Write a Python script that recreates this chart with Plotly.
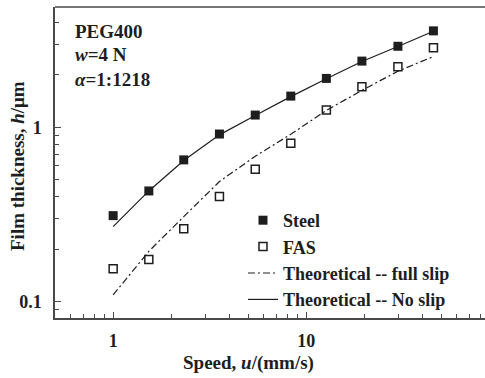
import numpy as np
import plotly.graph_objects as go

# Sliding speed u (mm/s)
speed = [1.0, 1.53, 2.32, 3.55, 5.44, 8.31, 12.7, 19.4, 29.8, 45.5]

# Measured film thickness h (um)
h_steel = [0.311, 0.431, 0.650, 0.915, 1.176, 1.511, 1.909, 2.40, 2.92, 3.58]
h_fas = [0.154, 0.174, 0.261, 0.400, 0.575, 0.810, 1.256, 1.709, 2.225, 2.86]

# Theoretical film thickness h (um)
h_full_slip = [0.109, 0.194, 0.307, 0.488, 0.682, 0.912, 1.25, 1.63, 2.10, 2.55]
h_no_slip = [0.269, 0.431, 0.645, 0.905, 1.17, 1.50, 1.90, 2.39, 2.91, 3.56]

x_major = [1, 10]
x_minor = [0.6, 0.7, 0.8, 0.9, 2, 3, 4, 5, 6, 7, 8, 9, 20, 30, 40, 50, 60, 70, 80]
y_major = [0.1, 1]
y_minor = [0.09, 0.2, 0.3, 0.4, 0.5, 0.6, 0.7, 0.8, 0.9, 2, 3, 4]

W, H = 485, 378
ML, MR, MT, MB = 55, 0, 7, 60
AXC = "#4a4a4a"
INK = "#1e1e1e"
FONT = "Liberation Serif"

fig = go.Figure()
fig.add_trace(go.Scatter(
    x=speed, y=h_steel, mode="markers", name="Steel",
    marker=dict(symbol="square", size=9, color=INK, line=dict(width=0)),
))
fig.add_trace(go.Scatter(
    x=speed, y=h_fas, mode="markers", name="FAS",
    marker=dict(symbol="square-open", size=8, color=INK, line=dict(width=1.5, color=INK)),
))
fig.add_trace(go.Scatter(
    x=speed, y=h_full_slip, mode="lines", name="Theoretical -- full slip",
    line=dict(color=INK, width=1.2, dash="7px,3px,2px,3px"),
))
fig.add_trace(go.Scatter(
    x=speed, y=h_no_slip, mode="lines", name="Theoretical -- No slip",
    line=dict(color=INK, width=1.2),
))

tickfont = dict(family=FONT, size=18, color=INK, weight="bold")

fig.update_xaxes(
    type="log", range=[np.log10(0.5), 1.925],
    showline=True, linecolor=AXC, linewidth=1.5, mirror=False,
    showgrid=False, zeroline=False,
    ticks="inside", ticklen=6, tickwidth=1.2, tickcolor=AXC,
    tickmode="array", tickvals=x_major, ticktext=["1", "10"],
    tickfont=tickfont, ticklabelstandoff=6,
    minor=dict(ticks="inside", ticklen=4, tickwidth=1.2, tickcolor=AXC,
               tickmode="array", tickvals=x_minor, showgrid=False),
)
fig.update_yaxes(
    type="log", range=[np.log10(0.0803), 0.691],
    showline=True, linecolor=AXC, linewidth=1.5, mirror=False,
    showgrid=False, zeroline=False,
    ticks="inside", ticklen=6, tickwidth=1.2, tickcolor=AXC,
    tickmode="array", tickvals=y_major, ticktext=["0.1", "1"],
    tickfont=tickfont, ticklabelstandoff=8,
    minor=dict(ticks="inside", ticklen=4, tickwidth=1.2, tickcolor=AXC,
               tickmode="array", tickvals=y_minor, showgrid=False),
)

# top frame line
fig.add_shape(type="line", xref="paper", yref="paper", x0=0, x1=1, y0=1, y1=1,
              line=dict(color=AXC, width=1.5))

pw, ph = W - ML - MR, H - MT - MB


def px_x(p):
    return (p - ML) / pw


def px_y(p):
    return (H - MB - p) / ph


label_font = dict(family=FONT, size=19, color=INK)
for txt, yc in [("<b>PEG400</b>", 31), ("<b><i>w</i>=4 N</b>", 54.5), ("<b><i>α</i>=1:1218</b>", 79)]:
    fig.add_annotation(text=txt, xref="paper", yref="paper", x=px_x(73), y=px_y(yc),
                       xanchor="left", yanchor="middle", showarrow=False, font=label_font)

fig.add_annotation(text="<b>Speed, <i>u</i>/(mm/s)</b>", xref="paper", yref="paper",
                   x=px_x(248.5), y=px_y(362.5), xanchor="center", yanchor="middle",
                   showarrow=False, font=label_font)
fig.add_annotation(text="<b>Film thickness, <i>h</i>/μm</b>", xref="paper", yref="paper",
                   x=px_x(17), y=px_y(166), xanchor="center", yanchor="middle",
                   textangle=-90, showarrow=False, font=label_font)

fig.update_layout(
    width=W, height=H,
    margin=dict(l=ML, r=MR, t=MT, b=MB),
    paper_bgcolor="white", plot_bgcolor="white",
    showlegend=True,
    legend=dict(x=px_x(243), y=px_y(202), xanchor="left", yanchor="top",
                bgcolor="rgba(0,0,0,0)", borderwidth=0,
                font=dict(family=FONT, size=18, color=INK, weight="bold"),
                tracegroupgap=0, itemwidth=30),
)

fig.write_html("out.html")
